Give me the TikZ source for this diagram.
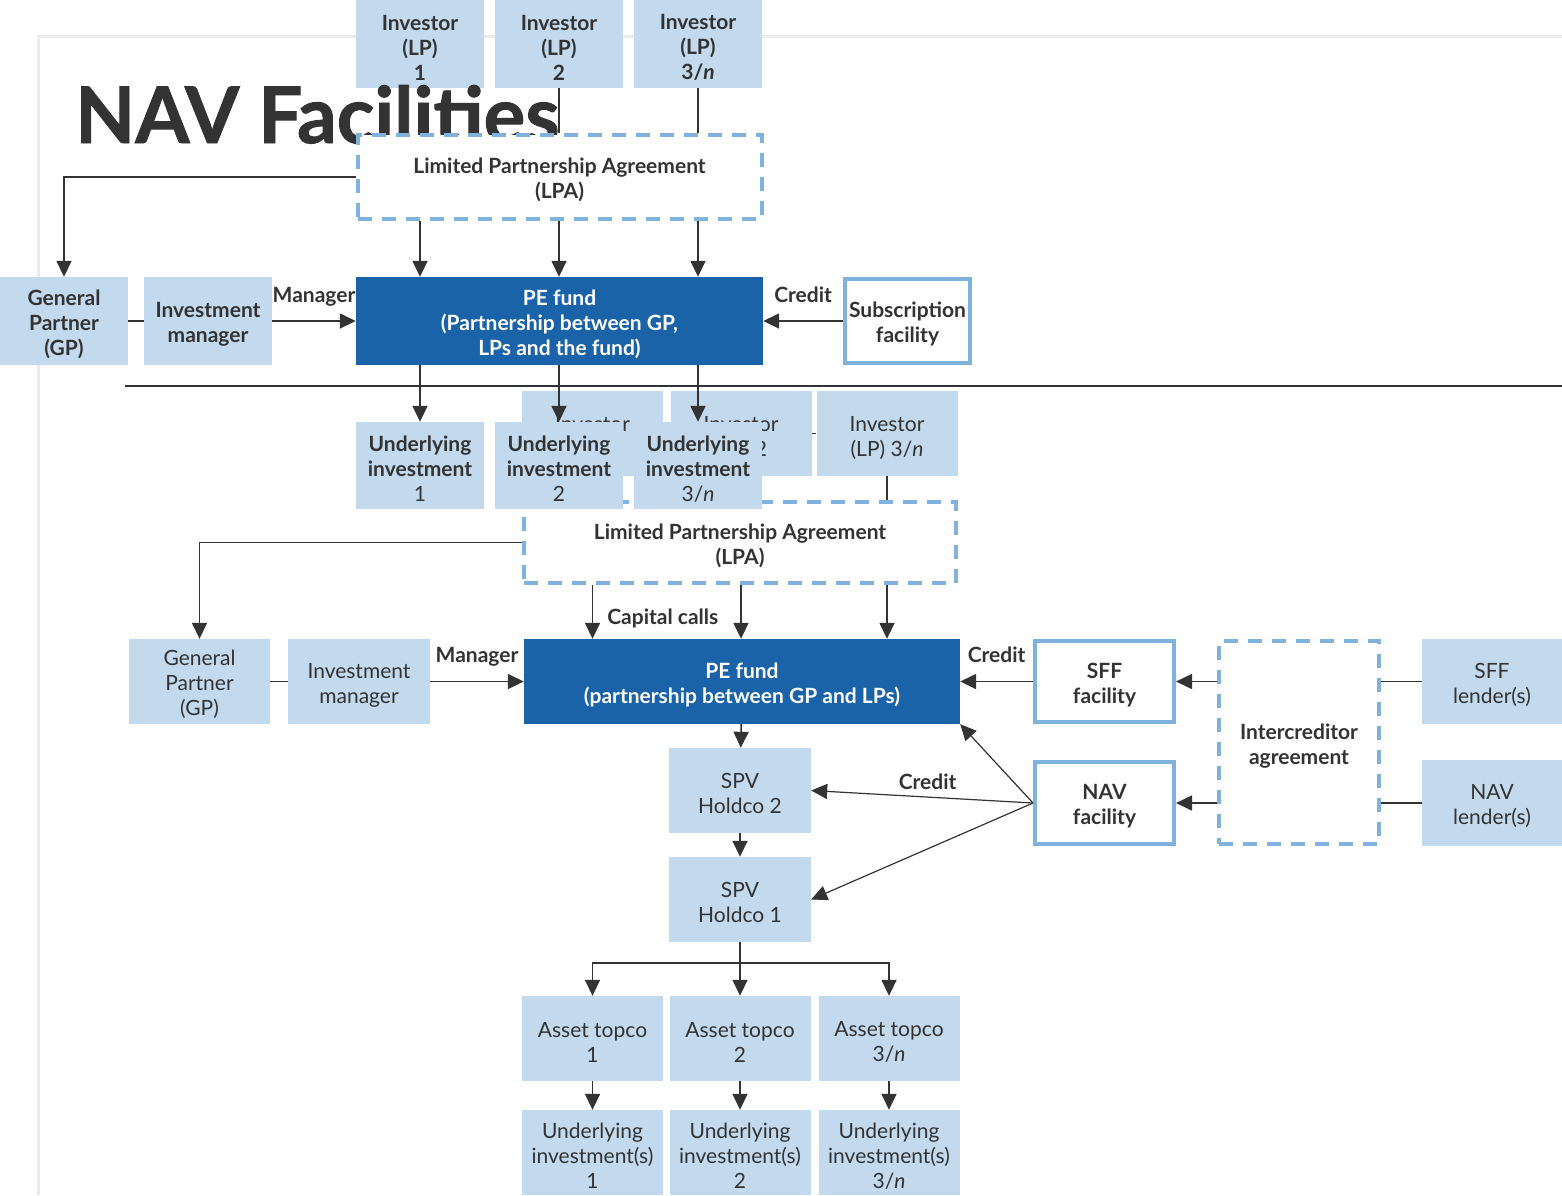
\documentclass[tikz,border=0pt]{standalone}
\usepackage{fontspec}
\setmainfont{Lato}
\newfontfamily\heavyfont[FakeBold=1.2]{Lato}
\usetikzlibrary{arrows.meta}
\usetikzlibrary{backgrounds}
\definecolor{boxblue}{HTML}{C3D9ED}
\definecolor{fundblue}{HTML}{1A63A8}
\definecolor{edgeblue}{HTML}{80B2DE}
\definecolor{inkgray}{HTML}{333333}
\definecolor{framegray}{HTML}{ECECEC}
\newcommand{\thirdn}{3/\textit{n}}
\newcommand{\boxstrut}{\rule{0pt}{22pt}}
\tikzset{
	boxtext/.style={align=center,inner sep=0pt},
	lightstyle/.style={rectangle,fill=boxblue,text=inkgray,boxtext},
	darkstyle/.style={rectangle,fill=fundblue,text=white,boxtext,font=\bfseries},
	facilitystyle/.style={rectangle,draw=edgeblue,line width=4pt,fill=white,text=inkgray,boxtext,font=\bfseries},
	agreementstyle/.style={rectangle,draw=edgeblue,line width=4pt,dash pattern=on 14pt off 10pt,fill=white,text=inkgray,boxtext,font=\bfseries},
	labelstyle/.style={text=inkgray,inner sep=0pt,text height=15pt,text depth=5pt,font=\bfseries},
	titlestyle/.style={text=inkgray,inner sep=0pt,font=\fontsize{78}{82}\selectfont\heavyfont\bfseries},
	linkstyle/.style={draw=inkgray,line width=1.6pt},
	arrowstyle/.style={linkstyle,-{Triangle[width=15pt,length=16pt]}},
	thinarrow/.style={draw=inkgray,line width=1.2pt,-{Triangle[width=15pt,length=16pt]}},
	sepstyle/.style={draw=inkgray,line width=1.6pt},
	framestyle/.style={draw=framegray,line width=3pt}
}

\begin{document}
\begin{tikzpicture}[x=1pt,y=-1pt]
	\fontsize{21}{25}\selectfont
	\useasboundingbox (0,0) rectangle (1562,1195);
	\draw[framestyle] (38,1195) -- (38,36) -- (1562,36);

	% lower chart
	\foreach \n/\x/\txt in {1/592.5/1,2/741/2,3/887/\thirdn}
		\node[lightstyle,minimum width=141pt,minimum height=85pt] (invB\n) at (\x,433.5) {\rule{0pt}{25pt}Investor\\(LP) \txt};
	\draw[linkstyle] (invB2) -- (invB3);
	\node[agreementstyle,minimum width=432pt,minimum height=81pt] (lpaB) at (740,542.5) {\boxstrut Limited Partnership Agreement\\(LPA)};
	\draw[linkstyle] (invB3.south) -- (lpaB.north -| invB3);
	\node[lightstyle,minimum width=141pt,minimum height=85pt] (gpB) at (199.5,681.5) {\boxstrut General\\Partner\\(GP)};
	\node[lightstyle,minimum width=142pt,minimum height=85pt] (imB) at (359,681.5) {\boxstrut Investment\\manager};
	\node[darkstyle,minimum width=436pt,minimum height=85pt] (peB) at (742,681.5) {\boxstrut PE fund\\(partnership between GP and LPs)};
	\node[facilitystyle,minimum width=139pt,minimum height=81pt] (sffB) at (1104.5,681.5) {\boxstrut SFF\\facility};
	\node[facilitystyle,minimum width=139pt,minimum height=82pt] (navB) at (1104.5,803) {\boxstrut NAV\\facility};
	\node[agreementstyle,minimum width=160pt,minimum height=203pt] (icaB) at (1299,742.5) {\boxstrut Intercreditor\\agreement};
	\node[lightstyle,minimum width=140pt,minimum height=85pt] (sffL) at (1492,681.5) {\boxstrut SFF\\lender(s)};
	\node[lightstyle,minimum width=140pt,minimum height=86pt] (navL) at (1492,803) {\boxstrut NAV\\lender(s)};
	\node[lightstyle,minimum width=142pt,minimum height=85pt] (spvB2) at (740,790.5) {\boxstrut SPV\\Holdco 2};
	\node[lightstyle,minimum width=142pt,minimum height=85pt] (spvB1) at (740,899.5) {\boxstrut SPV\\Holdco 1};
	\foreach \n/\x/\txt in {1/592.5/1,2/740/2,3/889/\thirdn}
	{
		\node[lightstyle,minimum width=141pt,minimum height=85pt] (topco\n) at (\x,1038.5) {\boxstrut Asset topco\\\txt};
		\node[lightstyle,minimum width=141pt,minimum height=85pt] (asset\n) at (\x,1152.5) {\boxstrut Underlying\\investment(s)\\\txt};
		\draw[arrowstyle] (topco\n) -- (asset\n);
	}
	\coordinate (split) at (740,963);
	\draw[linkstyle] (spvB1) -- (split);
	\foreach \n in {1,2,3} \draw[arrowstyle] (split) -| (topco\n);

	\draw[linkstyle] (gpB) -- (imB);
	\draw[arrowstyle] (imB) -- node[labelstyle,above=13pt] (mgrB) {Manager} (peB);
	\draw[arrowstyle] (lpaB.west) -| (gpB);
	\draw[arrowstyle] (lpaB.south -| invB1) -- node[labelstyle,right=14pt,pos=0.65] (callsB) {Capital calls} (peB.north -| invB1);
	\foreach \n in {2,3} \draw[arrowstyle] (lpaB.south -| invB\n) -- (peB.north -| invB\n);
	\draw[arrowstyle] (sffB) -- node[labelstyle,above=13pt] (creditB) {Credit} (peB);
	\draw[arrowstyle] (icaB.west |- sffB) -- (sffB);
	\draw[arrowstyle] (icaB.west |- navB) -- (navB);
	\draw[linkstyle] (sffL) -- (icaB.east |- sffL);
	\draw[linkstyle] (navL) -- (icaB.east |- navL);
	\draw[arrowstyle] (peB) -- (spvB2);
	\draw[arrowstyle] (spvB2) -- (spvB1);
	\draw[thinarrow] (navB.west) -- (peB.south east);
	\draw[thinarrow] (navB.west) -- node[labelstyle,above=2pt,pos=0.475] (creditC) {Credit} (spvB2.east);
	\draw[thinarrow] (navB.west) -- (spvB1.east);

	% upper chart
	\foreach \n/\x/\txt in {1/420/1,2/559/2,3/698/\thirdn}
		\node[lightstyle,font=\bfseries,minimum width=128pt,minimum height=88pt] (invA\n) at (\x,44) {\boxstrut Investor\\(LP)\\\txt};
	\node[titlestyle,anchor=base west] (title) at (75,143) {NAV Facilities};
	\node[agreementstyle,minimum width=404pt,minimum height=84pt] (lpaA) at (559.5,177) {\boxstrut Limited Partnership Agreement\\(LPA)};
	\begin{scope}[on background layer]
		\foreach \n in {2,3} \draw[linkstyle] (invA\n.south) -- (lpaA.north -| invA\n);
	\end{scope}
	\node[lightstyle,font=\bfseries,minimum width=128pt,minimum height=88pt] (gpA) at (64,321) {\boxstrut General\\Partner\\(GP)};
	\node[lightstyle,font=\bfseries,minimum width=128pt,minimum height=88pt] (imA) at (208,321) {\boxstrut Investment\\manager};
	\node[darkstyle,minimum width=407pt,minimum height=88pt] (peA) at (559.5,321) {\boxstrut PE fund\\(Partnership between GP,\\LPs and the fund)};
	\node[facilitystyle,minimum width=125pt,minimum height=84pt] (subA) at (907.5,321) {\boxstrut Subscription\\facility};
	\draw[sepstyle] (125,386) -- (1562,386);
	\foreach \n/\x/\txt in {1/420/1,2/559/2,3/698/\thirdn}
		\node[lightstyle,font=\bfseries,minimum width=128pt,minimum height=87pt] (uiA\n) at (\x,465.5) {\boxstrut Underlying\\investment\\\mdseries\txt};

	\draw[linkstyle] (gpA) -- (imA);
	\draw[arrowstyle] (imA) -- node[labelstyle,above=13pt] (mgrA) {Manager} (peA);
	\draw[arrowstyle] (lpaA.west) -| (gpA);
	\foreach \n in {1,2,3} \draw[arrowstyle] (lpaA.south -| invA\n) -- (peA.north -| invA\n);
	\draw[arrowstyle] (subA) -- node[labelstyle,above=13pt] (creditA) {Credit} (peA);
	\foreach \n in {1,2,3} \draw[arrowstyle] (peA.south -| uiA\n) -- (uiA\n);
\end{tikzpicture}
\end{document}
